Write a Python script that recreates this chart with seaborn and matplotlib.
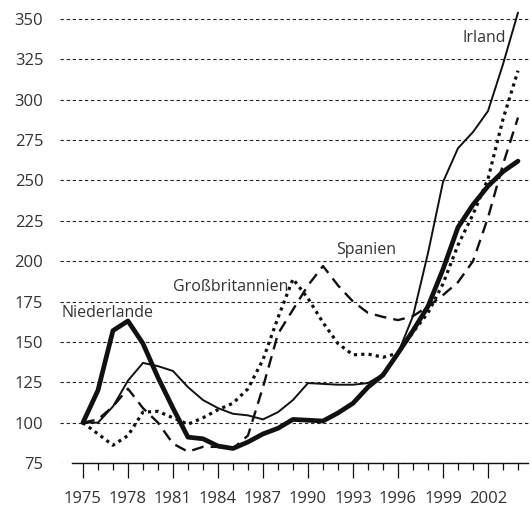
import numpy as np
import pandas as pd
import matplotlib.pyplot as plt
import seaborn as sns
from matplotlib.ticker import FixedLocator

# Data (Index, 1975 = 100)
# ==============================================================================
years = list(range(1975, 2005))

irland = [100, 100, 110, 126, 137, 135, 132, 122, 114, 109,
          105.5, 104.5, 102, 106.5, 114, 124.5, 124, 123.5, 123.5, 124.5,
          130, 143, 166, 205, 249, 270, 280, 293, 322, 354]
niederlande = [100, 120, 157, 163, 149, 128, 109, 91, 90, 85.5,
               84, 88, 93, 96.5, 102, 101.5, 101, 106, 112, 122,
               129.5, 143, 157, 172, 195, 221, 235, 246.5, 255.5, 262]
grossbritannien = [100, 93, 86, 92, 106.5, 107, 103, 99, 103, 108,
                   112, 121, 139, 165, 189, 177, 162, 149, 142, 142.5,
                   140.5, 143, 156, 168, 186, 210, 229, 251, 288, 318]
spanien = [100, 102, 110, 121, 109, 100, 87, 82, 85, 85,
           84, 92, 122, 155, 170, 185, 197, 185, 175, 168,
           165.5, 163.5, 166, 172, 179, 187, 200, 227, 260, 289]

y_ticks = list(range(75, 351, 25))
x_ticks = list(range(1975, 2003, 3))

df = pd.DataFrame({
    "Jahr": years,
    "Irland": irland,
    "Niederlande": niederlande,
    "Großbritannien": grossbritannien,
    "Spanien": spanien,
})

# Style
# ==============================================================================
sns.set_style("white")
plt.rcParams['font.family'] = ['Open Sans', 'DejaVu Sans']
text_color = "#333333"
line_color = "#111111"

fig = plt.figure(figsize=(5.31, 5.09), dpi=100)
ax = fig.add_axes([60 / 531, 46 / 509, 470 / 531, 458 / 509])

# Lines
# ==============================================================================
sns.lineplot(data=df, x="Jahr", y="Spanien", color=line_color,
             linewidth=1.7, linestyle=(0, (5, 3)), sort=False, ax=ax)
sns.lineplot(data=df, x="Jahr", y="Großbritannien", color=line_color,
             linewidth=2.3, linestyle=(0, (1, 1.3)), sort=False, ax=ax)
sns.lineplot(data=df, x="Jahr", y="Irland", color=line_color,
             linewidth=1.4, sort=False, ax=ax)
sns.lineplot(data=df, x="Jahr", y="Niederlande", color=line_color,
             linewidth=3.4, sort=False, ax=ax)

# Series labels
# ==============================================================================
labels = {
    "Niederlande": (1973.6, 168),
    "Großbritannien": (1981.0, 184),
    "Spanien": (1991.9, 207),
    "Irland": (2000.3, 338),
}
for name, (lx, ly) in labels.items():
    ax.text(lx, ly, name, fontsize=11.5, color=text_color,
            ha="left", va="center")

# Axes
# ==============================================================================
ax.set_xlim(1973.47, 2004.8)
ax.set_ylim(75, 358.7)
ax.set_yticks(y_ticks)
ax.set_xticks(x_ticks)
ax.xaxis.set_minor_locator(FixedLocator(years))
ax.set_xlabel("")
ax.set_ylabel("")

ax.yaxis.grid(True, linestyle=(0, (3, 2.5)), color="#222222", linewidth=0.8)
ax.set_axisbelow(True)

for side in ["top", "right", "left"]:
    ax.spines[side].set_visible(False)
ax.spines["bottom"].set_bounds(1974.3, 2004.7)
ax.spines["bottom"].set_color(line_color)
ax.spines["bottom"].set_linewidth(1.0)

ax.tick_params(axis="y", left=False, length=0, pad=12, labelsize=12,
               labelcolor=text_color)
ax.tick_params(axis="x", which="major", bottom=True, direction="out",
               length=11, width=0.9, color=line_color, pad=9, labelsize=12,
               labelcolor=text_color)
ax.tick_params(axis="x", which="minor", bottom=True, direction="out",
               length=5, width=0.9, color=line_color)

plt.savefig("out.png", dpi=100)
